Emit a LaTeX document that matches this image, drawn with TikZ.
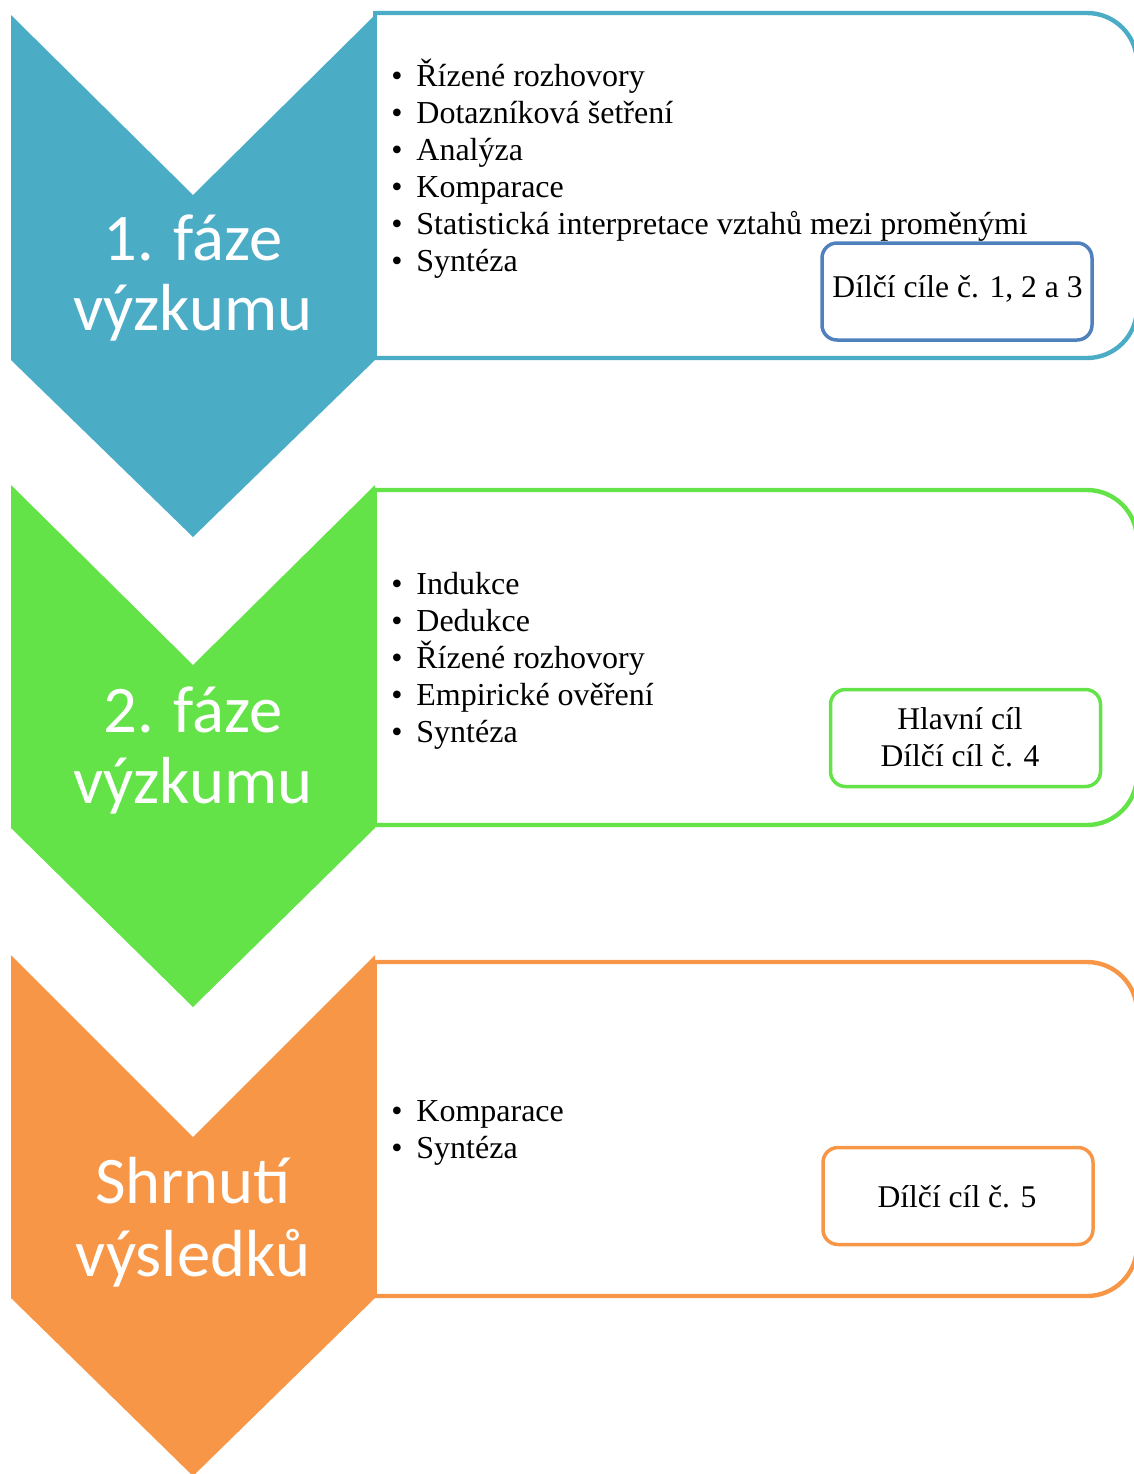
\documentclass[tikz,border=0pt]{standalone}
\usepackage{fontspec}
\setmainfont{Liberation Serif}
\newfontfamily\chevfont{Carlito}
\definecolor{cteal}{RGB}{75,172,198}
\definecolor{cgreen}{RGB}{99,227,72}
\definecolor{corange}{RGB}{247,150,70}
\definecolor{cblue}{RGB}{79,129,189}
\begin{document}
\begin{tikzpicture}[x=0.5pt,y=-0.5pt,
  panel/.style={draw=#1, line width=2.2pt, rounded corners=25pt},
  panelleft/.style={draw=#1, line width=2.2pt, line cap=rect},
  chevtext/.style={text=white, font=\chevfont\fontsize{33.3pt}{36pt}\selectfont, anchor=base, inner sep=0pt},
  itemtext/.style={font=\fontsize{16pt}{19pt}\selectfont, anchor=base west, inner sep=0pt},
  bul/.style={font=\fontsize{16pt}{19pt}\selectfont, anchor=base, inner sep=0pt},
  goal/.style={draw=#1, line width=1.75pt, rounded corners=7.5pt, minimum width=135pt, minimum height=48.5pt, inner sep=0pt},
  goaltext/.style={font=\fontsize{15.8pt}{19pt}\selectfont, anchor=base, inner sep=0pt}
]
\useasboundingbox (0,0) rectangle (1134,1474);

% ---------- phase 1 ----------
\draw[panel=cteal] (375,13) -- (1137,13) -- (1137,358) -- (375,358);
\draw[panelleft=cteal] (375,13) -- (375,358);
\fill[cteal] (11,15) -- (193,195) -- (375,15) -- (375,360) -- (193,537) -- (11,360) -- cycle;
\node[chevtext] (c1a) at (193,260) {1. fáze};
\node[chevtext] (c1b) at (193,330) {výzkumu};
\foreach \t [count=\i from 0] in {Řízené rozhovory, Dotazníková šetření, Analýza, Komparace, Statistická interpretace vztahů mezi proměnými, Syntéza}{
  \node[bul] (b1-\i) at (397,86+37*\i) {•};
  \node[itemtext] (i1-\i) at (416,86+37*\i) {\t};
}
\node[goal=cblue] (g1) at (957,291.5) {};
\node[goaltext] (g1t) at (957.5,297) {Dílčí cíle č. 1, 2 a 3};

% ---------- phase 2 ----------
\draw[panel=cgreen] (375,490) -- (1137,490) -- (1137,825) -- (375,825);
\draw[panelleft=cgreen] (375,490) -- (375,825);
\fill[cgreen] (11,485) -- (193,665) -- (375,485) -- (375,828) -- (193,1007) -- (11,828) -- cycle;
\node[chevtext] (c2a) at (193,732) {2. fáze};
\node[chevtext] (c2b) at (193,803) {výzkumu};
\foreach \t [count=\i from 0] in {Indukce, Dedukce, Řízené rozhovory, Empirické ověření, Syntéza}{
  \node[bul] (b2-\i) at (397,594+37*\i) {•};
  \node[itemtext] (i2-\i) at (416,594+37*\i) {\t};
}
\node[goal=cgreen] (g2) at (965.5,738) {};
\node[goaltext] (g2t) at (960,729) {Hlavní cíl};
\node[goaltext] (g2u) at (960,766) {Dílčí cíl č. 4};

% ---------- phase 3 ----------
\draw[panel=corange] (375,962) -- (1137,962) -- (1137,1296) -- (375,1296);
\draw[panelleft=corange] (375,962) -- (375,1296);
\fill[corange] (11,955) -- (193,1137) -- (375,955) -- (375,1298) -- (193,1476) -- (11,1298) -- cycle;
\node[chevtext] (c3a) at (193,1203) {Shrnutí};
\node[chevtext] (c3b) at (193,1276) {výsledků};
\foreach \t [count=\i from 0] in {Komparace, Syntéza}{
  \node[bul] (b3-\i) at (397,1121+37*\i) {•};
  \node[itemtext] (i3-\i) at (416,1121+37*\i) {\t};
}
\node[goal=corange] (g3) at (958,1196) {};
\node[goaltext] (g3t) at (957,1207) {Dílčí cíl č. 5};
\end{tikzpicture}
\end{document}
